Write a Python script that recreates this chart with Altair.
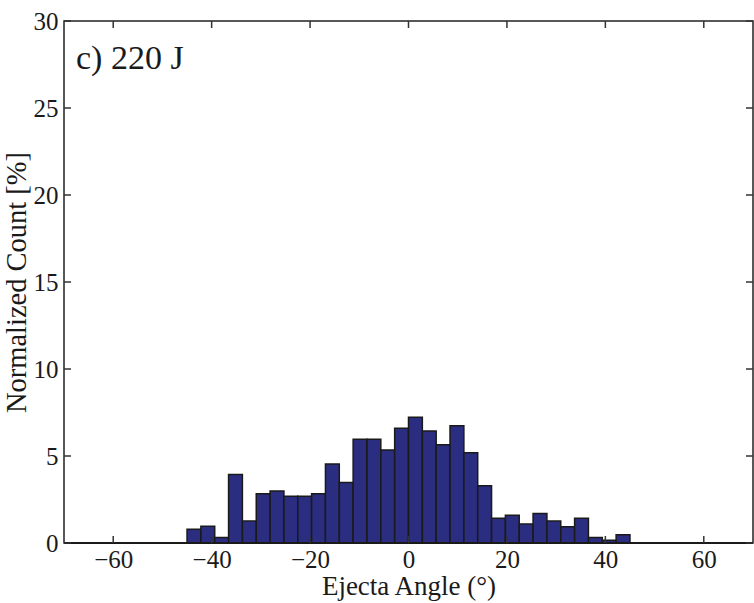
import altair as alt
import pandas as pd

# Histogram: 32 bins from -45 to 45 degrees
bin_lo = -45.0
bin_hi = 45.0
n_bins = 32
counts = [0.79, 0.96, 0.31, 3.93, 1.26, 2.83, 2.99, 2.68, 2.68, 2.83, 4.54, 3.47,
          5.96, 5.96, 5.34, 6.59, 7.22, 6.44, 5.65, 6.74, 5.19, 3.29, 1.42, 1.59,
          1.09, 1.69, 1.26, 0.94, 1.42, 0.31, 0.16, 0.48]
x_ticks = [-60, -40, -20, 0, 20, 40, 60]
y_ticks = [0, 5, 10, 15, 20, 25, 30]
label_text = "c) 220 J"

w = (bin_hi - bin_lo) / n_bins
df = pd.DataFrame({
    "start": [bin_lo + i * w for i in range(n_bins)],
    "end": [bin_lo + (i + 1) * w for i in range(n_bins)],
    "count": counts,
})
xt = pd.DataFrame({"v": x_ticks})
yt = pd.DataFrame({"v": y_ticks})

W, H = 689, 522
FONT = "Liberation Serif, Times New Roman, serif"
xs = alt.Scale(domain=[-70, 70], nice=False, zero=False)
ys = alt.Scale(domain=[0, 30], nice=False)

bars = alt.Chart(df).mark_rect(fill="#2a2d80", stroke="#1a1a1a", strokeWidth=1.5).encode(
    x=alt.X("start:Q", scale=xs,
            axis=alt.Axis(values=x_ticks, ticks=False, domain=False, grid=False,
                          labelFont=FONT, labelFontSize=25, labelColor="#1a1a1a",
                          labelPadding=4, title="Ejecta Angle (°)", titleFont=FONT,
                          titleFontSize=27, titleFontWeight="normal", titleColor="#1a1a1a",
                          titlePadding=1)),
    x2="end:Q",
    y=alt.Y("count:Q", scale=ys,
            axis=alt.Axis(values=y_ticks, ticks=False, domain=False, grid=False,
                          labelFont=FONT, labelFontSize=25, labelColor="#1a1a1a",
                          labelPadding=6, title="Normalized Count [%]", titleFont=FONT,
                          titleFontSize=28.5, titleFontWeight="normal", titleColor="#1a1a1a",
                          titlePadding=2)),
    y2=alt.datum(0),
)

tick_len = 7
xb = alt.Chart(xt).mark_rule(color="#333", strokeWidth=1.5).encode(
    x=alt.X("v:Q", scale=xs), y=alt.value(H), y2=alt.value(H - tick_len))
xtop = alt.Chart(xt).mark_rule(color="#333", strokeWidth=1.5).encode(
    x=alt.X("v:Q", scale=xs), y=alt.value(0), y2=alt.value(tick_len))
yl = alt.Chart(yt).mark_rule(color="#333", strokeWidth=1.5).encode(
    y=alt.Y("v:Q", scale=ys), x=alt.value(0), x2=alt.value(tick_len))
yr = alt.Chart(yt).mark_rule(color="#333", strokeWidth=1.5).encode(
    y=alt.Y("v:Q", scale=ys), x=alt.value(W), x2=alt.value(W - tick_len))

baseline = alt.Chart(pd.DataFrame({"v": [0]})).mark_rule(color="#1a1a1a", strokeWidth=2).encode(
    y=alt.Y("v:Q", scale=ys), x=alt.value(0), x2=alt.value(W))

txt = alt.Chart(pd.DataFrame({"t": [label_text]})).mark_text(
    font=FONT, fontSize=34, align="left", baseline="alphabetic", color="#1a1a1a"
).encode(text="t:N", x=alt.value(12), y=alt.value(48))

chart = alt.layer(bars, baseline, xb, xtop, yl, yr, txt).properties(
    width=W, height=H,
    autosize=alt.AutoSizeParams(type="none"),
    padding={"left": 64, "top": 21, "right": 1, "bottom": 60},
    background="white",
).configure_view(stroke="#222", strokeWidth=1.5)

chart.save("out.html", embed_options={"renderer": "svg", "actions": False})
